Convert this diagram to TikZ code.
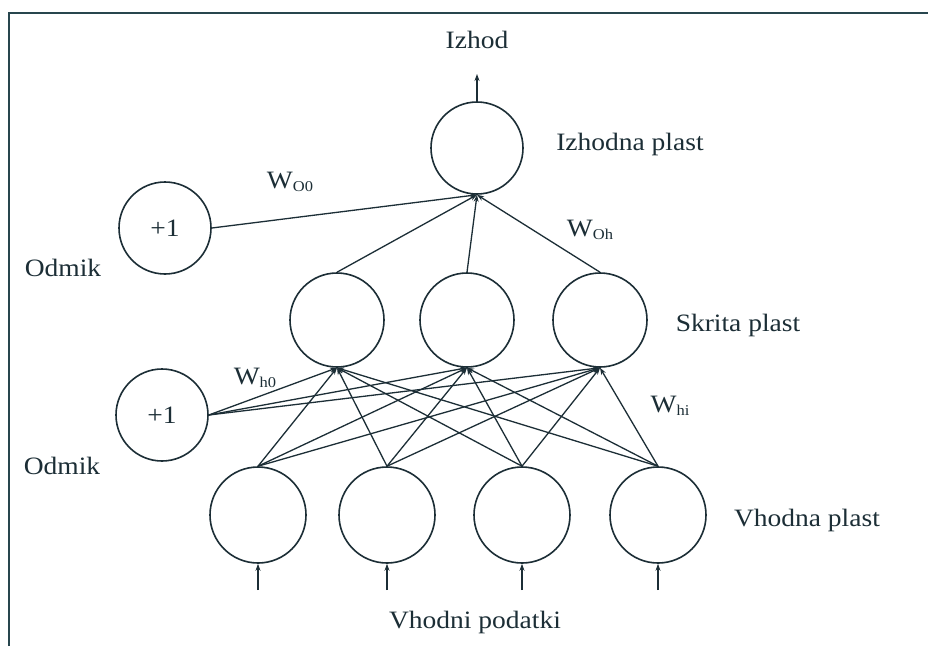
\documentclass[tikz,border=0pt]{standalone}
\usepackage{fontspec}
\setmainfont{Liberation Serif}[FakeStretch=1.1]
\usetikzlibrary{arrows.meta}
\definecolor{ink}{RGB}{28,46,54}
\definecolor{frame}{RGB}{40,70,78}
\newcommand{\wlab}[1]{W\raisebox{-0.3ex}{\fontsize{15}{15}\selectfont #1}}
\begin{document}
\begin{tikzpicture}[x=1pt,y=-1pt,
  every node/.style={text=ink},
  txt/.style={font=\fontsize{25}{28}\selectfont, inner sep=0pt},
  neuron/.style={draw=ink, line width=1.6pt, circle, inner sep=0pt, minimum size=#1},
  link/.style={draw=ink, line width=1.3pt, -{Stealth[length=7pt,width=5pt]}},
  ioarrow/.style={draw=ink, line width=1.4pt, -{Stealth[length=7pt,width=5pt]}}
]
\useasboundingbox (0,0) rectangle (928,646);
\fill[white] (0,0) rectangle (928,646);
% frame
\draw[frame, line width=2pt] (9,646) -- (9,13) -- (928,13);

% nodes
\node[neuron=92pt] (out) at (477,148) {};
\node[neuron=92pt, txt] (b1) at (165,228) {+1};
\node[neuron=94pt] (h1) at (337,320) {};
\node[neuron=94pt] (h2) at (467,320) {};
\node[neuron=94pt] (h3) at (600,320) {};
\node[neuron=92pt, txt] (b2) at (162,415) {+1};
\node[neuron=96pt] (i1) at (258,515) {};
\node[neuron=96pt] (i2) at (387,515) {};
\node[neuron=96pt] (i3) at (522,515) {};
\node[neuron=96pt] (i4) at (658,515) {};

% free ends
\coordinate (outtop) at (477,74);
\coordinate (in1) at (258,590);
\coordinate (in2) at (387,590);
\coordinate (in3) at (522,590);
\coordinate (in4) at (658,590);

% labels
\node[txt] (lizhod) at (477,40) {Izhod};
\node[txt] (lizp) at (630,144) {Izhodna plast};
\node[txt] (wo0) at (290,182) {\wlab{O0}};
\node[txt] (lodm1) at (63,268) {Odmik};
\node[txt] (woh) at (590,230) {\wlab{Oh}};
\node[txt] (lskr) at (738,325) {Skrita plast};
\node[txt] (wh0) at (255,378) {\wlab{h0}};
\node[txt] (lodm2) at (62,466) {Odmik};
\node[txt] (whi) at (670,406) {\wlab{hi}};
\node[txt] (lvp) at (807,520) {Vhodna plast};
\node[txt] (lvpod) at (475,622) {Vhodni podatki};

% output arrow
\draw[ioarrow] (out.north) -- (outtop);
% bias to output
\draw[link] (b1.east) -- (out.south);
% hidden to output
\foreach \h in {h1,h2,h3} \draw[link] (\h.north) -- (out.south);
% inputs and bias to hidden
\foreach \h in {h1,h2,h3}{
  \draw[link] (b2.east) -- (\h.south);
  \foreach \i in {i1,i2,i3,i4} \draw[link] (\i.north) -- (\h.south);
}
% input arrows
\draw[ioarrow] (in1) -- (i1.south);
\draw[ioarrow] (in2) -- (i2.south);
\draw[ioarrow] (in3) -- (i3.south);
\draw[ioarrow] (in4) -- (i4.south);
\end{tikzpicture}
\end{document}
